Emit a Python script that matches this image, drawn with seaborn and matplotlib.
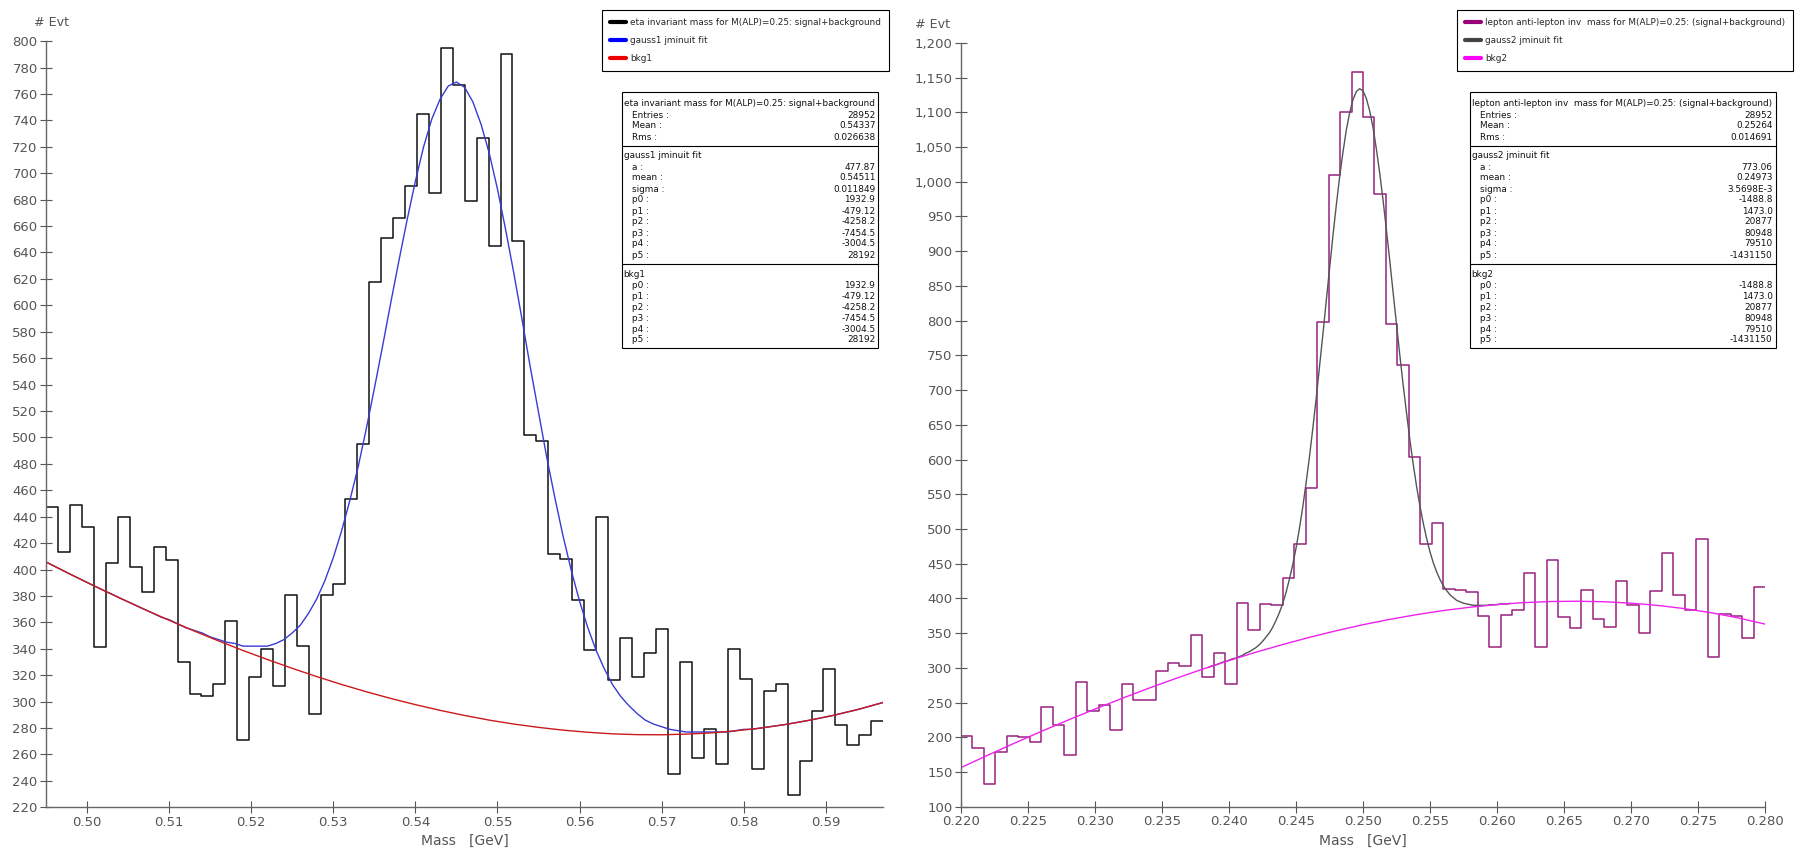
import numpy as np
import pandas as pd
import matplotlib
matplotlib.use("Agg")
import matplotlib.pyplot as plt
from matplotlib.lines import Line2D
from matplotlib.patches import Rectangle
from matplotlib.ticker import FuncFormatter, MultipleLocator
import seaborn as sns

# ---- left panel: eta invariant mass, 70 bins ----
eta_range = (0.495, 0.597)
eta_counts = [447, 413, 449, 432, 341, 405, 440, 402, 383, 417,
              407, 330, 306, 304, 313, 361, 271, 319, 340, 312,
              381, 342, 291, 381, 389, 453, 495, 618, 651, 666,
              690, 745, 685, 795, 767, 679, 727, 645, 790, 649,
              502, 497, 412, 408, 377, 339, 440, 316, 348, 319,
              337, 355, 245, 330, 257, 279, 253, 340, 317, 249,
              308, 313, 229, 255, 293, 325, 282, 267, 275, 285]

# gauss1 fit curve (it sits on bkg1 at both ends)
gauss1_x = [0.495, 0.498, 0.501, 0.504, 0.507,
            0.508, 0.509, 0.510, 0.511, 0.512, 0.513, 0.514, 0.515, 0.516, 0.517,
            0.518, 0.519, 0.520, 0.521, 0.522, 0.523, 0.524, 0.525, 0.526, 0.527,
            0.528, 0.529, 0.530, 0.531, 0.532, 0.533, 0.534, 0.535, 0.536, 0.537,
            0.538, 0.539, 0.540, 0.541, 0.542, 0.543, 0.544, 0.545, 0.546, 0.547,
            0.548, 0.549, 0.550, 0.551, 0.552, 0.553, 0.554, 0.555, 0.556, 0.557,
            0.558, 0.559, 0.560, 0.561, 0.562, 0.563, 0.564, 0.565, 0.566, 0.567,
            0.568, 0.569, 0.570, 0.571, 0.572, 0.573, 0.574, 0.575, 0.576, 0.577,
            0.578, 0.579, 0.580, 0.581, 0.582,
            0.585, 0.588, 0.591, 0.594, 0.597]
gauss1_y = [405.7, 396.3, 387.2, 378.4, 369.8,
            367, 364, 362, 359, 356, 354, 352, 349, 347, 345,
            344, 342, 342, 342, 342, 344, 347, 352, 358, 367,
            378, 392, 409, 429, 452, 477, 506, 537, 569, 602,
            634, 665, 694, 720, 741, 756, 766, 769, 765, 754,
            737, 715, 688, 657, 624, 589, 553, 519, 485, 454,
            425, 399, 376, 356, 339, 325, 313, 304, 297, 291,
            286, 283, 281, 279, 278, 277, 277, 277, 277, 277,
            277, 278, 279, 279, 280,
            282.6, 285.9, 289.7, 294.2, 299.4]

# bkg1 curve
bkg1_x = [0.495, 0.498, 0.501, 0.504, 0.507, 0.510, 0.513, 0.516, 0.519, 0.522,
          0.525, 0.528, 0.531, 0.534, 0.537, 0.540, 0.543, 0.546, 0.549, 0.552,
          0.555, 0.558, 0.561, 0.564, 0.567, 0.570, 0.573, 0.576, 0.579, 0.582,
          0.585, 0.588, 0.591, 0.594, 0.597]
bkg1_y = [405.7, 396.3, 387.2, 378.4, 369.8, 361.6, 353.6, 346.0, 338.7, 331.8,
          325.2, 318.9, 313.0, 307.5, 302.4, 297.7, 293.4, 289.5, 286.0, 283.0,
          280.5, 278.4, 276.8, 275.6, 275.0, 274.9, 275.4, 276.3, 277.9, 279.9,
          282.6, 285.9, 289.7, 294.2, 299.4]

# ---- right panel: lepton anti-lepton invariant mass, 70 bins ----
lep_range = (0.22, 0.28)
lep_counts = [202, 185, 133, 179, 202, 200, 193, 244, 217, 175,
              279, 238, 246, 210, 277, 253, 254, 296, 307, 302,
              347, 287, 322, 277, 394, 354, 392, 390, 429, 478,
              559, 798, 1010, 1100, 1158, 1093, 983, 795, 736, 603,
              478, 509, 414, 412, 409, 375, 330, 376, 384, 436,
              330, 455, 373, 357, 412, 370, 359, 425, 390, 350,
              410, 465, 405, 383, 486, 315, 378, 374, 343, 416]

gauss2_x = [0.2385, 0.23875,
            0.2390, 0.23925, 0.2395, 0.23975, 0.2400, 0.24025, 0.2405, 0.24075,
            0.2410, 0.24125, 0.2415, 0.24175, 0.2420, 0.24225, 0.2425, 0.24275,
            0.2430, 0.24325, 0.2435, 0.24375, 0.2440, 0.24425, 0.2445, 0.24475,
            0.2450, 0.24525, 0.2455, 0.24575, 0.2460, 0.24625, 0.2465, 0.24675,
            0.2470, 0.24725, 0.2475, 0.24775, 0.2480, 0.24825, 0.2485, 0.24875,
            0.2490, 0.24925, 0.2495, 0.24975, 0.2500, 0.25025, 0.2505, 0.25075,
            0.2510, 0.25125, 0.2515, 0.25175, 0.2520, 0.25225, 0.2525, 0.25275,
            0.2530, 0.25325, 0.2535, 0.25375, 0.2540, 0.25425, 0.2545, 0.25475,
            0.2550, 0.25525, 0.2555, 0.25575, 0.2560, 0.25625, 0.2565, 0.25675,
            0.2570, 0.25725, 0.2575, 0.25775, 0.2580, 0.25825, 0.2585, 0.25875,
            0.2590, 0.25925, 0.2595, 0.25975, 0.2600, 0.26025, 0.2605, 0.26075,
            0.2610]
gauss2_y = [301, 303,
            304, 306, 308, 309, 311, 313, 314, 316,
            318, 321, 323, 326, 329, 333, 338, 344,
            350, 358, 368, 379, 392, 408, 427, 448,
            472, 500, 531, 566, 603, 644, 687, 733,
            779, 827, 874, 921, 965, 1006, 1042, 1074,
            1099, 1118, 1130, 1134, 1131, 1120, 1102, 1078,
            1047, 1012, 973, 930, 886, 840, 795, 750,
            707, 667, 628, 593, 561, 533, 508, 486,
            467, 451, 438, 427, 418, 411, 405, 401,
            397, 395, 393, 392, 391, 390, 390, 390,
            390, 390, 391, 391, 391, 392, 392, 392,
            393]

bkg2_x = [0.220, 0.222, 0.224, 0.226, 0.228, 0.230, 0.232, 0.234, 0.236, 0.238,
          0.240, 0.242, 0.244, 0.246, 0.248, 0.250, 0.252, 0.254, 0.256, 0.258,
          0.260, 0.262, 0.264, 0.266, 0.268, 0.270, 0.272, 0.274, 0.276, 0.278,
          0.280]
bkg2_y = [156.3, 174.2, 191.6, 208.5, 224.8, 240.6, 255.9, 270.5, 284.5, 297.9,
          310.5, 322.4, 333.5, 343.9, 353.4, 362.1, 369.8, 376.6, 382.5, 387.3,
          391.1, 393.9, 395.5, 395.9, 395.2, 393.1, 389.9, 385.2, 379.3, 371.9,
          363.0]

# stats box texts
p_names = ["p0", "p1", "p2", "p3", "p4", "p5"]
bkg1_params = ["1932.9", "-479.12", "-4258.2", "-7454.5", "-3004.5", "28192"]
bkg2_params = ["-1488.8", "1473.0", "20877", "80948", "79510", "-1431150"]

W, H = 1795, 863
def fx(px):
    return px / W
def fy(py):
    return 1 - py / H

sns.set_style("ticks")
plt.rcParams["font.family"] = ["DejaVu Sans"]
GREY = "#555555"

fig = plt.figure(figsize=(W / 100, H / 100), dpi=100)
ax1 = fig.add_axes([fx(46), fy(807.3), (883.3 - 46) / W, (807.3 - 41.1) / H])
ax2 = fig.add_axes([fx(961), fy(806.7), (1765 - 961) / W, (806.7 - 42.9) / H])


def draw_hist(ax, rng, counts, color):
    edges = np.linspace(rng[0], rng[1], len(counts) + 1)
    df = pd.DataFrame({"mass": (edges[:-1] + edges[1:]) / 2, "n": counts})
    sns.histplot(data=df, x="mass", weights="n", bins=len(counts), binrange=rng,
                 element="step", fill=False, color=color, linewidth=1.1, ax=ax)


draw_hist(ax1, eta_range, eta_counts, "#111111")
sns.lineplot(x=gauss1_x, y=gauss1_y, color="#3a3ad6", linewidth=1.0, ax=ax1)
sns.lineplot(x=bkg1_x, y=bkg1_y, color="#cc1a1a", linewidth=1.0, ax=ax1)

draw_hist(ax2, lep_range, lep_counts, "#99227f")
# first bin edge drawn down to the axis, as in the original
ax2.vlines(lep_range[0], 100, lep_counts[0], color="#99227f", linewidth=1.1)
sns.lineplot(x=gauss2_x, y=gauss2_y, color="#555555", linewidth=1.0, ax=ax2)
sns.lineplot(x=bkg2_x, y=bkg2_y, color="#ee22ee", linewidth=1.0, ax=ax2)

ax1.set_xlim(*eta_range)
ax1.set_ylim(220, 800)
ax1.xaxis.set_major_locator(MultipleLocator(0.01))
ax1.yaxis.set_major_locator(MultipleLocator(20))
ax1.xaxis.set_major_formatter(FuncFormatter(lambda v, p: f"{v:.2f}"))

ax2.set_xlim(*lep_range)
ax2.set_ylim(100, 1200)
ax2.xaxis.set_major_locator(MultipleLocator(0.005))
ax2.yaxis.set_major_locator(MultipleLocator(50))
ax2.xaxis.set_major_formatter(FuncFormatter(lambda v, p: f"{v:.3f}"))
ax2.yaxis.set_major_formatter(FuncFormatter(lambda v, p: f"{v:,.0f}"))

for ax in (ax1, ax2):
    sns.despine(ax=ax)
    for s in ("left", "bottom"):
        ax.spines[s].set_color("#666666")
        ax.spines[s].set_linewidth(1.0)
    ax.tick_params(direction="inout", length=8, width=0.8, colors=GREY,
                   labelsize=9.5, pad=2)
    ax.set_ylabel("")
    ax.set_xlabel("Mass   [GeV]", fontsize=10, color=GREY, labelpad=4)

fig.text(fx(34), fy(23), "# Evt", fontsize=9.2, color=GREY, va="center")
fig.text(fx(950), fy(24), "# Evt", fontsize=9.2, color=GREY, va="center", ha="right")

# legends
leg_kw = dict(loc="upper left", bbox_transform=fig.transFigure, fontsize=6.4,
              frameon=True, fancybox=False, edgecolor="black", framealpha=1,
              handlelength=1.8, handletextpad=0.5, labelspacing=1.0,
              borderpad=0.9, borderaxespad=0)
l1 = ax1.legend([Line2D([], [], color=c, lw=3) for c in ("#000000", "#0000ff", "#ee0000")],
                ["eta invariant mass for M(ALP)=0.25: signal+background",
                 "gauss1 jminuit fit", "bkg1"],
                bbox_to_anchor=(fx(601.7), fy(10)), **leg_kw)
l2 = ax2.legend([Line2D([], [], color=c, lw=3) for c in ("#990077", "#444444", "#ff00ff")],
                ["lepton anti-lepton inv  mass for M(ALP)=0.25: (signal+background)",
                 "gauss2 jminuit fit", "bkg2"],
                bbox_to_anchor=(fx(1456.7), fy(10)), **leg_kw)
for l in (l1, l2):
    l.get_frame().set_linewidth(0.8)


def stats_box(left, top, sections, fs=6.4):
    renderer = fig.canvas.get_renderer()
    y = top + 12
    right = left
    items = []
    for i, (title, rows) in enumerate(sections):
        if i > 0:
            items.append(("div", y - 1.5))
            y += 8
        t = fig.text(fx(left + 1.5), fy(y), title, fontsize=fs, va="center",
                     color="#111111", zorder=5)
        right = max(right, t.get_window_extent(renderer).x1 + 4)
        for lab, val in rows:
            y += 11
            fig.text(fx(left + 10), fy(y), lab + " :", fontsize=fs, va="center",
                     color="#111111", zorder=5)
            items.append(("val", y, val))
        y += 11
    bottom = y - 3
    fig.add_artist(Rectangle((fx(left), fy(bottom)), fx(right) - fx(left),
                             (bottom - top) / H, transform=fig.transFigure,
                             facecolor="white", edgecolor="black", lw=0.8, zorder=4))
    for it in items:
        if it[0] == "div":
            fig.add_artist(Line2D([fx(left), fx(right)], [fy(it[1]), fy(it[1])],
                                  transform=fig.transFigure, color="black",
                                  lw=0.8, zorder=5))
        else:
            fig.text(fx(right - 3), fy(it[1]), it[2], fontsize=fs, va="center",
                     ha="right", color="#111111", zorder=5)


stats_box(622, 92, [
    ("eta invariant mass for M(ALP)=0.25: signal+background",
     [("Entries", "28952"), ("Mean", "0.54337"), ("Rms", "0.026638")]),
    ("gauss1 jminuit fit",
     [("a", "477.87"), ("mean", "0.54511"), ("sigma", "0.011849")]
     + list(zip(p_names, bkg1_params))),
    ("bkg1", list(zip(p_names, bkg1_params))),
])
stats_box(1470, 92, [
    ("lepton anti-lepton inv  mass for M(ALP)=0.25: (signal+background)",
     [("Entries", "28952"), ("Mean", "0.25264"), ("Rms", "0.014691")]),
    ("gauss2 jminuit fit",
     [("a", "773.06"), ("mean", "0.24973"), ("sigma", "3.5698E-3")]
     + list(zip(p_names, bkg2_params))),
    ("bkg2", list(zip(p_names, bkg2_params))),
])

fig.savefig("out.png", dpi=100)
